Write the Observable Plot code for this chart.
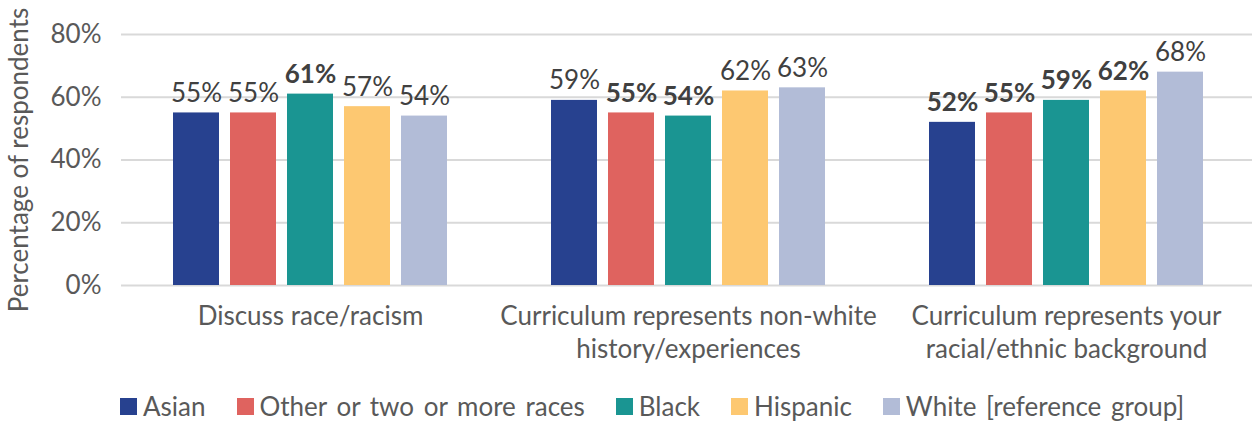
<!DOCTYPE html>
<html>
<head>
<meta charset="utf-8">
<script src="https://cdn.jsdelivr.net/npm/d3@7"></script>
<script src="https://cdn.jsdelivr.net/npm/@observablehq/plot@0.6"></script>
<style>
  html, body { margin: 0; padding: 0; background: #fff; overflow: hidden; }
  body { width: 1252px; height: 421px; font-family: Lato, "Open Sans", sans-serif; }
  #legend { display: flex; align-items: center; padding-left: 120px; height: 40px; margin-top: 16px; font-size: 26px; color: #595959; word-spacing: 3px; }
  .item { display: flex; align-items: center; margin-right: 31px; }
  .sw { width: 17px; height: 17px; margin-right: 6px; }
</style>
</head>
<body>
<div id="chart"></div>
<div id="legend"></div>
<script>
const groups = ["Discuss race/racism", "Curriculum represents non-white history/experiences", "Curriculum represents your racial/ethnic background"];
const groupLabels = ["Discuss race/racism", "Curriculum represents non-white\nhistory/experiences", "Curriculum represents your\nracial/ethnic background"];
const races = ["Asian", "Other or two or more races", "Black", "Hispanic", "White [reference group]"];
const colors = ["#27418f", "#df635f", "#1a9592", "#fdc871", "#b2bcd7"];
const values = [
  [0.55, 0.55, 0.61, 0.57, 0.54],
  [0.59, 0.55, 0.54, 0.62, 0.63],
  [0.52, 0.55, 0.59, 0.62, 0.68]
];
const bold = [
  [false, false, true, false, false],
  [false, true, true, false, false],
  [true, true, true, true, false]
];
const yTicks = [0, 0.2, 0.4, 0.6, 0.8];

const data = [];
groups.forEach((g, i) => races.forEach((r, j) => data.push({group: g, race: r, value: values[i][j], bold: bold[i][j]})));

const pct = d => Math.round(d * 100) + "%";

const chart = Plot.plot({
  width: 1252,
  height: 370,
  marginLeft: 122,
  marginRight: 0,
  marginTop: 34,
  marginBottom: 85,
  style: {fontFamily: "Lato, 'Open Sans', sans-serif", color: "#595959", background: "#fff"},
  fx: {domain: groups, padding: 0, range: [120, 1255]},
  x: {domain: races, paddingInner: 0.19, paddingOuter: 0.86, axis: null},
  y: {domain: [0, 0.8]},
  color: {domain: races, range: colors},
  marks: [
    Plot.gridY(yTicks, {stroke: "#d9d9d9", strokeOpacity: 1, strokeWidth: 2}),
    Plot.axisY(yTicks, {tickSize: 0, tickPadding: 20, tickFormat: d => Math.round(d * 100) + "%", fontSize: 26, fill: "#595959",
      label: "Percentage of respondents", labelAnchor: "center", labelArrow: "none", labelOffset: 112}),
    Plot.axisFx({anchor: "bottom", tickSize: 0, tickPadding: 16, label: null, fontSize: 26, lineHeight: 1.27, fill: "#595959",
      tickFormat: d => groupLabels[groups.indexOf(d)]}),
    Plot.barY(data, {fx: "group", x: "race", y: "value", fill: "race"}),
    Plot.text(data.filter(d => !d.bold), {fx: "group", x: "race", y: "value", text: d => pct(d.value), lineAnchor: "bottom", dy: -11, fontSize: 26, fill: "#404040"}),
    Plot.text(data.filter(d => d.bold), {fx: "group", x: "race", y: "value", text: d => pct(d.value), lineAnchor: "bottom", dy: -11, fontSize: 26, fontWeight: "bold", fill: "#404040"})
  ]
});
document.getElementById("chart").appendChild(chart);

const legend = document.getElementById("legend");
races.forEach((r, i) => {
  const it = document.createElement("div");
  it.className = "item";
  const sw = document.createElement("div");
  sw.className = "sw";
  sw.style.background = colors[i];
  const t = document.createElement("span");
  t.textContent = r;
  it.appendChild(sw);
  it.appendChild(t);
  legend.appendChild(it);
});
</script>
</body>
</html>
